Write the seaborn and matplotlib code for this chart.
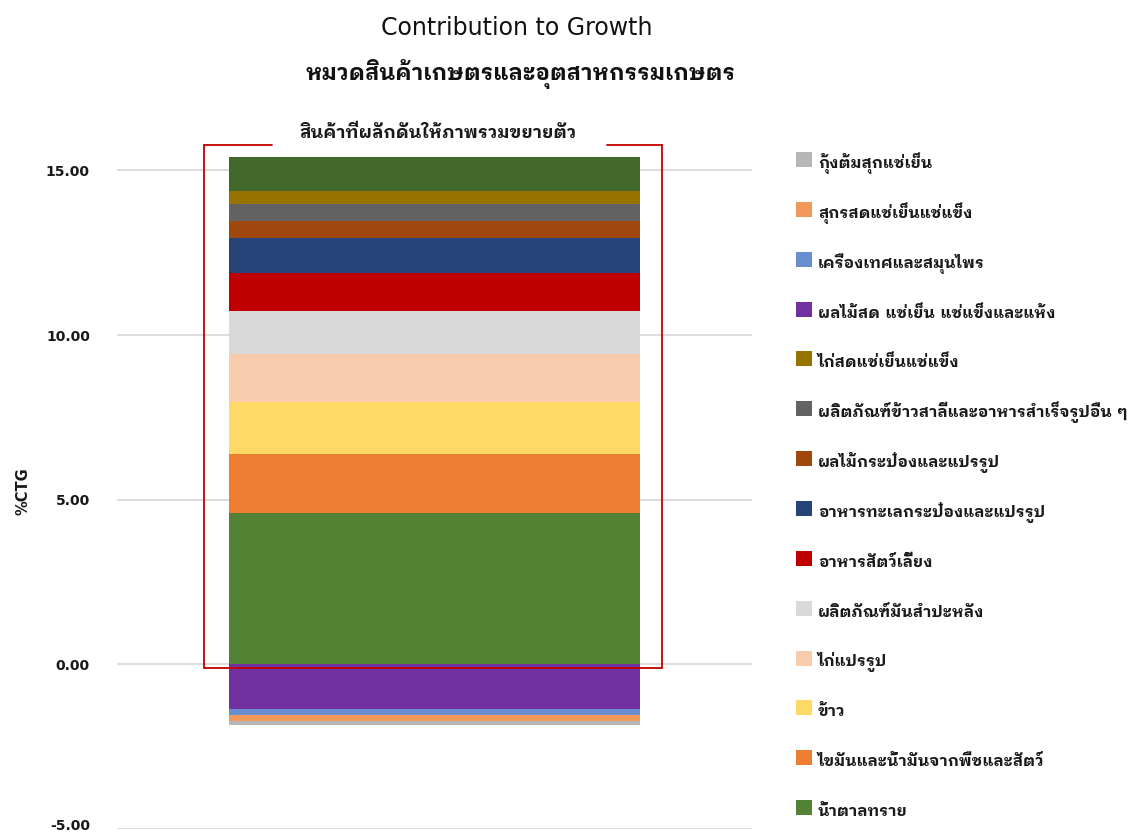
import matplotlib
matplotlib.use("Agg")
import matplotlib.pyplot as plt
from matplotlib.patches import Rectangle
from matplotlib.lines import Line2D
from matplotlib.transforms import ScaledTranslation
import numpy as np
import seaborn as sns

# ---------------- data ----------------
pos_labels = ["น้ำตาลทราย", "ไขมันและน้ำมันจากพืชและสัตว์", "ข้าว", "ไก่แปรรูป",
              "ผลิตภัณฑ์มันสำปะหลัง", "อาหารสัตว์เลี้ยง", "อาหารทะเลกระป๋องและแปรรูป",
              "ผลไม้กระป๋องและแปรรูป", "ผลิตภัณฑ์ข้าวสาลีและอาหารสำเร็จรูปอื่น ๆ",
              "ไก่สดแช่เย็นแช่แข็ง", "อื่น ๆ"]
pos_values = [4.59, 1.79, 1.58, 1.48, 1.28, 1.18, 1.04, 0.54, 0.49, 0.42, 1.01]
pos_colors = ["#548235", "#ED7D31", "#FFD966", "#F8CBAD", "#D9D9D9", "#C00000",
              "#264478", "#9E480E", "#636363", "#997300", "#43682B"]
pos_in_legend = [True] * 10 + [False]

neg_labels = ["ผลไม้สด แช่เย็น แช่แข็งและแห้ง", "เครื่องเทศและสมุนไพร",
              "สุกรสดแช่เย็นแช่แข็ง", "กุ้งต้มสุกแช่เย็น"]
neg_values = [-1.37, -0.18, -0.16, -0.14]
neg_colors = ["#7030A0", "#698ED0", "#F1975A", "#B7B7B7"]

yticks = [-5, 0, 5, 10, 15]
title1 = "Contribution to Growth"
title2 = "หมวดสินค้าเกษตรและอุตสาหกรรมเกษตร"
box_label = "สินค้าที่ผลักดันให้ภาพรวมขยายตัว"
ylabel = "%CTG"

# ---------------- style ----------------
sns.set_theme(style="white")
FONT = ["DejaVu Sans", "IBM Plex Sans Thai Looped"]
plt.rcParams["font.family"] = FONT
W, H = 1136, 834
TXT = "#1a1a1a"

def fx(px):
    return px / W

def fy(py):
    return 1 - py / H

fig = plt.figure(figsize=(W / 100, H / 100), dpi=100)
ax = fig.add_axes([fx(117), fy(829), 635 / W, (829 - 154) / H])

cat = ["รวม"]
pos_cum = np.cumsum(pos_values)
neg_cum = np.cumsum(neg_values)
# draw outermost first so inner stacks overlay
for i in range(len(pos_values) - 1, -1, -1):
    sns.barplot(x=cat, y=[pos_cum[i]], color=pos_colors[i], saturation=1,
                width=0.647, linewidth=0, ax=ax)
for i in range(len(neg_values) - 1, -1, -1):
    sns.barplot(x=cat, y=[neg_cum[i]], color=neg_colors[i], saturation=1,
                width=0.647, linewidth=0, ax=ax)

ax.set_xlim(-0.5, 0.5)
ax.set_ylim(-5, 15.5)
ax.set_yticks(yticks)
ax.set_yticklabels([f"{v:.2f}" for v in yticks], fontsize=10, fontweight="bold",
                   color=TXT)
ax.set_xticks([])
ax.set_xlabel("")
ax.set_ylabel(ylabel, fontsize=10.5, fontweight="semibold", color=TXT)
ax.yaxis.set_label_coords((31 - 117) / 635, 0.5)
ax.tick_params(axis="y", length=0, pad=19.5)
for s in ax.spines.values():
    s.set_visible(False)
ax.yaxis.grid(True, color="#D9D9D9", linewidth=1.3)
ax.set_axisbelow(True)
# keep the lowest tick label inside the canvas
low = ax.get_yticklabels()[0]
low.set_transform(low.get_transform() + ScaledTranslation(0, 3 / 72, fig.dpi_scale_trans))

# red bracket box around positive contributors (top line broken by label)
red = "#C00000"
segs = [([204, 272], [145, 145]), ([607, 662], [145, 145]),
        ([204, 204], [145, 668]), ([662, 662], [145, 668]),
        ([204, 662], [668, 668])]
for xs, ys in segs:
    fig.add_artist(Line2D([fx(v) for v in xs], [fy(v) for v in ys],
                          transform=fig.transFigure, color=red, linewidth=1.3))
fig.text(fx(438), fy(133), box_label, ha="center", va="center",
         fontsize=12.8, fontweight="bold", color=TXT)

fig.text(fx(517), fy(28), title1, ha="center", va="center", fontsize=17,
         color="#111111")
fig.text(fx(521), fy(74), title2, ha="center", va="center", fontsize=16,
         fontweight="bold", color="#111111")

# legend (reverse order of series), fixed row pitch
leg_labels = [l for l, k in zip(pos_labels, pos_in_legend) if k] + neg_labels
leg_colors = [c for c, k in zip(pos_colors, pos_in_legend) if k] + neg_colors
leg_labels = leg_labels[::-1]
leg_colors = leg_colors[::-1]
pitch = 49.85
for i, (lab, col) in enumerate(zip(leg_labels, leg_colors)):
    top = 152 + i * pitch
    fig.add_artist(Rectangle((fx(796), fy(top + 15)), 16 / W, 15 / H,
                             transform=fig.transFigure, facecolor=col,
                             edgecolor="none"))
    fig.text(fx(818), fy(top + 16), lab, ha="left", va="baseline",
             fontsize=11.5, fontweight="bold", color=TXT)

fig.savefig("out.png", dpi=100)
